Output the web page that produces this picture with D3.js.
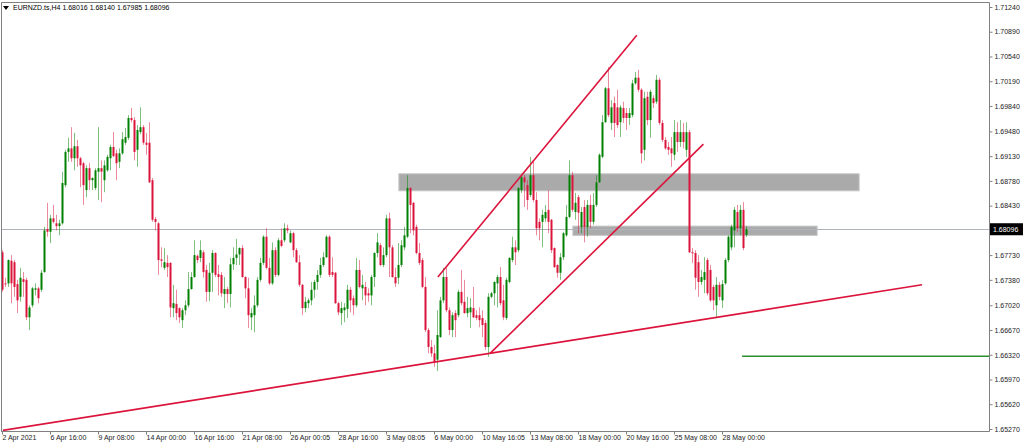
<!DOCTYPE html>
<html><head><meta charset="utf-8">
<script src="https://cdn.jsdelivr.net/npm/d3@7/dist/d3.min.js"></script>
<style>
html,body{margin:0;padding:0;background:#fff;overflow:hidden}
svg{display:block}
text{font-family:"Liberation Sans",Arial,sans-serif}
</style>
</head><body>
<svg id="chart" width="1024" height="447"></svg>
<script>
const symbolTitle = "EURNZD.ts,H4";
const lastQuote = [1.68016, 1.68140, 1.67985, 1.68096];
const currentPrice = 1.68096;

const opens = [
1.6777,1.6733,1.6733,1.6765,1.6763,1.6732,1.6714,1.6739,1.6738,1.6685,
1.6702,1.6724,1.6726,1.6724,1.6749,1.6810,1.6806,1.6825,1.6818,1.6814,
1.6818,1.6872,1.6919,1.6924,1.6910,1.6927,1.6910,1.6903,1.6865,1.6896,
1.6879,1.6868,1.6891,1.6896,1.6879,1.6893,1.6910,1.6926,1.6917,1.6905,
1.6917,1.6932,1.6939,1.6967,1.6964,1.6922,1.6947,1.6954,1.6932,1.6932,
1.6879,1.6824,1.6818,1.6767,1.6755,1.6762,1.6762,1.6698,1.6704,1.6698,
1.6681,1.6695,1.6702,1.6725,1.6742,1.6772,1.6769,1.6777,1.6752,1.6721,
1.6748,1.6776,1.6746,1.6745,1.6718,1.6725,1.6718,1.6760,1.6769,1.6774,
1.6783,1.6742,1.6726,1.6685,1.6688,1.6702,1.6738,1.6762,1.6799,1.6755,
1.6733,1.6780,1.6745,1.6794,1.6794,1.6811,1.6791,1.6804,1.6780,1.6763,
1.6731,1.6698,1.6705,1.6709,1.6724,1.6735,1.6745,1.6759,1.6770,1.6799,
1.6749,1.6748,1.6705,1.6691,1.6695,1.6697,1.6724,1.6712,1.6702,1.6752,
1.6726,1.6728,1.6719,1.6716,1.6742,1.6776,1.6787,1.6759,1.6773,1.6825,
1.6784,1.6742,1.6741,1.6759,1.6784,1.6799,1.6868,1.6847,1.6813,1.6776,
1.6766,1.6728,1.6667,1.6643,1.6634,1.6625,1.6657,1.6709,1.6742,1.6695,
1.6667,1.6691,1.6688,1.6721,1.6707,1.6691,1.6692,1.6698,1.6688,1.6688,
1.6684,1.6677,1.6643,1.6714,1.6719,1.6733,1.6742,1.6709,1.6684,1.6735,
1.6766,1.6784,1.6780,1.6865,1.6883,1.6872,1.6858,1.6886,1.6851,1.6820,
1.6820,1.6825,1.6837,1.6823,1.6783,1.6759,1.6748,1.6770,1.6801,1.6827,
1.6886,1.6834,1.6855,1.6813,1.6841,1.6813,1.6844,1.6820,1.6844,1.6876,
1.6912,1.6961,1.7009,1.6960,1.6988,1.6982,1.6961,1.6981,1.6974,1.6967,
1.6971,1.7016,1.7024,1.7007,1.6922,1.6997,1.6964,1.6995,1.6990,1.7021,
1.6960,1.6936,1.6926,1.6924,1.6915,1.6947,1.6933,1.6947,1.6922,1.6947,
1.6777,1.6776,1.6763,1.6735,1.6738,1.6766,1.6752,1.6728,1.6702,1.6731,
1.6709,1.6733,1.6766,1.6784,1.6808,1.6834,1.6811,1.6837,1.68016];

const highs = [
1.6780,1.6741,1.6767,1.6773,1.6766,1.6738,1.6755,1.6749,1.6741,1.6702,
1.6728,1.6733,1.6728,1.6752,1.6813,1.6847,1.6830,1.6844,1.6830,1.6823,
1.6891,1.6922,1.6939,1.6954,1.6946,1.6936,1.6912,1.6905,1.6900,1.6903,
1.6883,1.6896,1.6954,1.6907,1.6907,1.6915,1.6929,1.6947,1.6922,1.6924,
1.6947,1.6953,1.6971,1.6981,1.6968,1.6957,1.6982,1.6957,1.6946,1.6961,
1.6882,1.6827,1.6820,1.6784,1.6783,1.6773,1.6763,1.6731,1.6724,1.6699,
1.6698,1.6709,1.6749,1.6749,1.6794,1.6774,1.6794,1.6780,1.6759,1.6762,
1.6780,1.6777,1.6759,1.6749,1.6742,1.6728,1.6769,1.6784,1.6796,1.6784,
1.6787,1.6743,1.6741,1.6698,1.6716,1.6742,1.6769,1.6801,1.6811,1.6769,
1.6791,1.6784,1.6797,1.6811,1.6818,1.6816,1.6808,1.6806,1.6783,1.6773,
1.6732,1.6714,1.6712,1.6735,1.6738,1.6752,1.6769,1.6777,1.6801,1.6801,
1.6770,1.6749,1.6707,1.6707,1.6705,1.6731,1.6728,1.6716,1.6769,1.6766,
1.6745,1.6735,1.6726,1.6745,1.6777,1.6804,1.6790,1.6784,1.6830,1.6833,
1.6787,1.6755,1.6790,1.6794,1.6813,1.6886,1.6869,1.6848,1.6816,1.6790,
1.6769,1.6742,1.6670,1.6653,1.6646,1.6695,1.6714,1.6755,1.6755,1.6699,
1.6692,1.6695,1.6724,1.6752,1.6738,1.6714,1.6712,1.6728,1.6695,1.6699,
1.6695,1.6681,1.6719,1.6721,1.6736,1.6745,1.6756,1.6731,1.6741,1.6770,
1.6799,1.6794,1.6869,1.6886,1.6886,1.6879,1.6912,1.6907,1.6862,1.6825,
1.6837,1.6844,1.6865,1.6824,1.6784,1.6760,1.6776,1.6806,1.6844,1.6907,
1.6891,1.6861,1.6858,1.6841,1.6851,1.6851,1.6858,1.6861,1.6886,1.6917,
1.6971,1.7011,1.7039,1.6992,1.6997,1.7007,1.6985,1.6990,1.6981,1.6981,
1.7021,1.7032,1.7035,1.7009,1.7004,1.7004,1.7007,1.6999,1.7028,1.7024,
1.6964,1.6940,1.6933,1.6940,1.6964,1.6961,1.6964,1.6960,1.6961,1.6950,
1.6783,1.6780,1.6773,1.6752,1.6770,1.6769,1.6759,1.6731,1.6742,1.6735,
1.6738,1.6769,1.6801,1.6816,1.6841,1.6844,1.6844,1.6848,1.68140];

const lows = [
1.6721,1.6728,1.6728,1.6705,1.6714,1.6691,1.6707,1.6714,1.6681,1.6667,
1.6699,1.6716,1.6705,1.6721,1.6748,1.6799,1.6790,1.6818,1.6808,1.6801,
1.6816,1.6869,1.6905,1.6905,1.6893,1.6898,1.6869,1.6844,1.6855,1.6865,
1.6865,1.6865,1.6851,1.6848,1.6862,1.6891,1.6893,1.6912,1.6879,1.6896,
1.6915,1.6929,1.6936,1.6961,1.6907,1.6898,1.6944,1.6929,1.6915,1.6875,
1.6820,1.6808,1.6745,1.6756,1.6752,1.6742,1.6685,1.6685,1.6681,1.6677,
1.6670,1.6688,1.6699,1.6724,1.6741,1.6762,1.6763,1.6741,1.6707,1.6708,
1.6721,1.6742,1.6716,1.6714,1.6698,1.6705,1.6699,1.6752,1.6759,1.6759,
1.6741,1.6712,1.6670,1.6667,1.6664,1.6699,1.6735,1.6759,1.6753,1.6731,
1.6731,1.6742,1.6743,1.6784,1.6791,1.6804,1.6790,1.6770,1.6762,1.6728,
1.6688,1.6692,1.6698,1.6702,1.6712,1.6724,1.6741,1.6756,1.6769,1.6742,
1.6742,1.6704,1.6688,1.6674,1.6678,1.6684,1.6692,1.6688,1.6699,1.6726,
1.6709,1.6702,1.6707,1.6702,1.6728,1.6770,1.6757,1.6756,1.6770,1.6742,
1.6741,1.6728,1.6732,1.6756,1.6780,1.6797,1.6804,1.6801,1.6774,1.6759,
1.6726,1.6664,1.6634,1.6629,1.6615,1.6609,1.6656,1.6705,1.6692,1.6660,
1.6657,1.6657,1.6685,1.6702,1.6690,1.6685,1.6670,1.6684,1.6681,1.6671,
1.6657,1.6639,1.6629,1.6712,1.6702,1.6699,1.6702,1.6681,1.6681,1.6733,
1.6763,1.6759,1.6777,1.6861,1.6841,1.6837,1.6855,1.6848,1.6801,1.6794,
1.6784,1.6820,1.6804,1.6776,1.6755,1.6741,1.6738,1.6766,1.6799,1.6825,
1.6834,1.6823,1.6804,1.6804,1.6791,1.6799,1.6811,1.6816,1.6841,1.6875,
1.6910,1.6960,1.6968,1.6950,1.6940,1.6953,1.6940,1.6960,1.6950,1.6957,
1.6968,1.7014,1.7004,1.6903,1.6907,1.6957,1.6939,1.6981,1.6987,1.6957,
1.6933,1.6922,1.6915,1.6898,1.6907,1.6919,1.6926,1.6924,1.6912,1.6776,
1.6762,1.6724,1.6714,1.6731,1.6719,1.6716,1.6707,1.6695,1.6685,1.6709,
1.6698,1.6731,1.6763,1.6780,1.6784,1.6806,1.6801,1.6780,1.67985];

const closes = [
1.6724,1.6732,1.6766,1.6733,1.6728,1.6709,1.6741,1.6735,1.6685,1.6699,
1.6726,1.6726,1.6712,1.6748,1.6808,1.6806,1.6825,1.6820,1.6814,1.6818,
1.6875,1.6919,1.6924,1.6910,1.6927,1.6910,1.6900,1.6872,1.6896,1.6879,
1.6882,1.6893,1.6896,1.6891,1.6900,1.6912,1.6926,1.6913,1.6903,1.6917,
1.6937,1.6940,1.6967,1.6964,1.6919,1.6950,1.6954,1.6932,1.6929,1.6876,
1.6823,1.6820,1.6766,1.6765,1.6763,1.6756,1.6699,1.6705,1.6691,1.6685,
1.6695,1.6702,1.6725,1.6742,1.6773,1.6766,1.6780,1.6749,1.6721,1.6748,
1.6776,1.6745,1.6742,1.6719,1.6725,1.6718,1.6760,1.6769,1.6774,1.6783,
1.6742,1.6726,1.6688,1.6691,1.6702,1.6738,1.6762,1.6799,1.6755,1.6733,
1.6780,1.6745,1.6794,1.6786,1.6811,1.6808,1.6804,1.6780,1.6763,1.6731,
1.6698,1.6707,1.6709,1.6724,1.6735,1.6745,1.6759,1.6770,1.6799,1.6745,
1.6745,1.6705,1.6692,1.6698,1.6699,1.6724,1.6709,1.6702,1.6752,1.6728,
1.6731,1.6716,1.6716,1.6742,1.6776,1.6791,1.6759,1.6773,1.6825,1.6784,
1.6742,1.6733,1.6759,1.6787,1.6801,1.6868,1.6844,1.6808,1.6776,1.6762,
1.6728,1.6667,1.6643,1.6634,1.6622,1.6660,1.6709,1.6742,1.6695,1.6667,
1.6688,1.6681,1.6721,1.6705,1.6691,1.6698,1.6699,1.6685,1.6684,1.6681,
1.6674,1.6643,1.6714,1.6719,1.6735,1.6742,1.6705,1.6685,1.6738,1.6769,
1.6784,1.6777,1.6868,1.6883,1.6876,1.6851,1.6886,1.6851,1.6811,1.6811,
1.6830,1.6834,1.6820,1.6780,1.6756,1.6748,1.6770,1.6804,1.6827,1.6886,
1.6837,1.6847,1.6833,1.6834,1.6813,1.6844,1.6820,1.6844,1.6876,1.6915,
1.6961,1.7009,1.6971,1.6982,1.6960,1.6957,1.6982,1.6967,1.6967,1.6974,
1.7016,1.7024,1.7007,1.6917,1.6995,1.6964,1.7004,1.6988,1.7021,1.6960,
1.6936,1.6924,1.6922,1.6917,1.6947,1.6933,1.6947,1.6933,1.6947,1.6777,
1.6776,1.6741,1.6735,1.6742,1.6749,1.6719,1.6709,1.6709,1.6731,1.6714,
1.6732,1.6766,1.6799,1.6813,1.6837,1.6811,1.6837,1.6783,1.68096];

const xTickBars = [0,16,32,48,64,80,96,112,128,144,160,176,192,208,224,240];
const xTickLabels = ["2 Apr 2021","6 Apr 16:00","9 Apr 08:00","14 Apr 00:00","16 Apr 16:00",
  "21 Apr 08:00","26 Apr 00:05","28 Apr 16:00","3 May 08:05","6 May 00:00","10 May 16:05",
  "13 May 08:00","18 May 00:00","20 May 16:00","25 May 08:00","28 May 00:00"];
const yTickValues = [1.71240,1.70890,1.70540,1.70190,1.69840,1.69480,1.69130,1.68780,1.68430,
  1.67730,1.67380,1.67020,1.66670,1.66320,1.65970,1.65620,1.65270];

// drawn objects: [bar index, price]
const trendStarts = [[0.3,1.6525],[145.3,1.6742],[162.7,1.6634]];
const trendEnds   = [[306.7,1.6731],[211.6,1.7084],[233.8,1.6930]];
const zoneBars   = [[132.3,285.7],[190.3,271.7]];
const zonePrices = [[1.6888,1.6864],[1.6814,1.6801]];
const levelStartBar = 246.7;
const levelPrice = 1.6630;

const svg = d3.select("#chart");
const W = 1024, H = 447;
const plotL = 1, plotR = 989, plotT = 2, plotB = 431;
const x = d3.scaleLinear().domain([0,329]).range([2,989]);
const y = d3.scaleLinear().domain([1.65270,1.71240]).range([429,7]);
const GREEN = "#008000", RED = "#dc143c";

const bars = opens.map((o,i)=>({i, o, h:highs[i], l:lows[i], c:closes[i]}));

const plot = svg.append("g");
plot.append("defs").append("clipPath").attr("id","clip")
  .append("rect").attr("x",plotL).attr("y",plotT).attr("width",plotR-plotL).attr("height",plotB-plotT);
const inner = plot.append("g").attr("clip-path","url(#clip)");

// zones (background)
inner.selectAll("rect.zone").data(zoneBars).enter().append("rect")
  .attr("x",d=>x(d[0])).attr("width",d=>x(d[1])-x(d[0]))
  .attr("y",(d,k)=>y(zonePrices[k][0])).attr("height",(d,k)=>y(zonePrices[k][1])-y(zonePrices[k][0]))
  .attr("fill","#aaaaaa").attr("stroke","#c4c4c4").attr("stroke-width",1);

// current price line
inner.append("line").attr("x1",plotL).attr("x2",plotR)
  .attr("y1",Math.round(y(currentPrice))+0.5).attr("y2",Math.round(y(currentPrice))+0.5)
  .attr("stroke","#aeb3be").attr("stroke-width",1);

// candles
const cg = inner.append("g");
cg.selectAll("line.wick").data(bars).enter().append("line")
  .attr("x1",d=>Math.round(x(d.i))+0.5).attr("x2",d=>Math.round(x(d.i))+0.5)
  .attr("y1",d=>y(d.h)).attr("y2",d=>y(d.l))
  .attr("stroke",d=>d.c>=d.o?GREEN:RED).attr("stroke-opacity",0.5).attr("stroke-width",1);
cg.selectAll("rect.body").data(bars).enter().append("rect")
  .attr("x",d=>Math.round(x(d.i))-0.5).attr("width",2)
  .attr("y",d=>y(Math.max(d.o,d.c)))
  .attr("height",d=>Math.max(1,Math.abs(y(d.o)-y(d.c))))
  .attr("fill",d=>d.c>=d.o?GREEN:RED);

// trend lines
inner.selectAll("line.trend").data(trendStarts).enter().append("line")
  .attr("x1",d=>x(d[0])).attr("y1",d=>y(d[1]))
  .attr("x2",(d,k)=>x(trendEnds[k][0])).attr("y2",(d,k)=>y(trendEnds[k][1]))
  .attr("stroke",RED).attr("stroke-width",1.6);

// green level
inner.append("line").attr("x1",x(levelStartBar)).attr("x2",plotR)
  .attr("y1",y(levelPrice)).attr("y2",y(levelPrice))
  .attr("stroke","#2a8f2a").attr("stroke-width",1.6);

// frame
const frame = svg.append("g").attr("stroke","#808080").attr("stroke-width",1).attr("fill","none");
frame.append("path").attr("d",`M${plotL+0.5},${plotB+0.5}V${plotT+0.5}H${plotR+0.5}V${plotB+0.5}H${plotL}`);

// axes
const yAxis = d3.axisRight(y).tickValues(yTickValues).tickSize(3).tickFormat(d3.format(".5f"));
const ya = svg.append("g").attr("transform",`translate(${plotR+0.5},0)`).call(yAxis);
ya.select(".domain").remove();
ya.selectAll(".tick line").attr("stroke","#808080");
ya.selectAll(".tick text").attr("x",5).attr("fill","#222").style("font-size","7px").style("font-family","'Liberation Sans',Arial,sans-serif");

const xAxis = d3.axisBottom(x).tickValues(xTickBars).tickSize(3).tickFormat((d,k)=>xTickLabels[k]);
const xa = svg.append("g").attr("transform",`translate(0,${plotB+0.5})`).call(xAxis);
xa.select(".domain").remove();
xa.selectAll(".tick line").attr("stroke","#808080");
xa.selectAll(".tick text").attr("text-anchor","start").attr("x",0).attr("y",4)
  .attr("fill","#222").style("font-size","7px").style("font-family","'Liberation Sans',Arial,sans-serif");

// current price label
const cy = y(currentPrice);
svg.append("rect").attr("x",plotR+1).attr("y",cy-6).attr("width",W-plotR-2).attr("height",12).attr("fill","#000");
svg.append("text").attr("x",plotR+4).attr("y",cy).attr("dy","0.35em").attr("fill","#fff")
  .style("font-size","7px").text(d3.format(".5f")(currentPrice));

// header
svg.append("path").attr("d","M3,6H9L6,10Z").attr("fill","#000");
svg.append("text").attr("x",13).attr("y",8).attr("dy","0.35em").attr("fill","#000").style("font-size","7px")
  .text(symbolTitle + "  " + lastQuote.map(d3.format(".5f")).join(" "));
</script>
</body></html>
